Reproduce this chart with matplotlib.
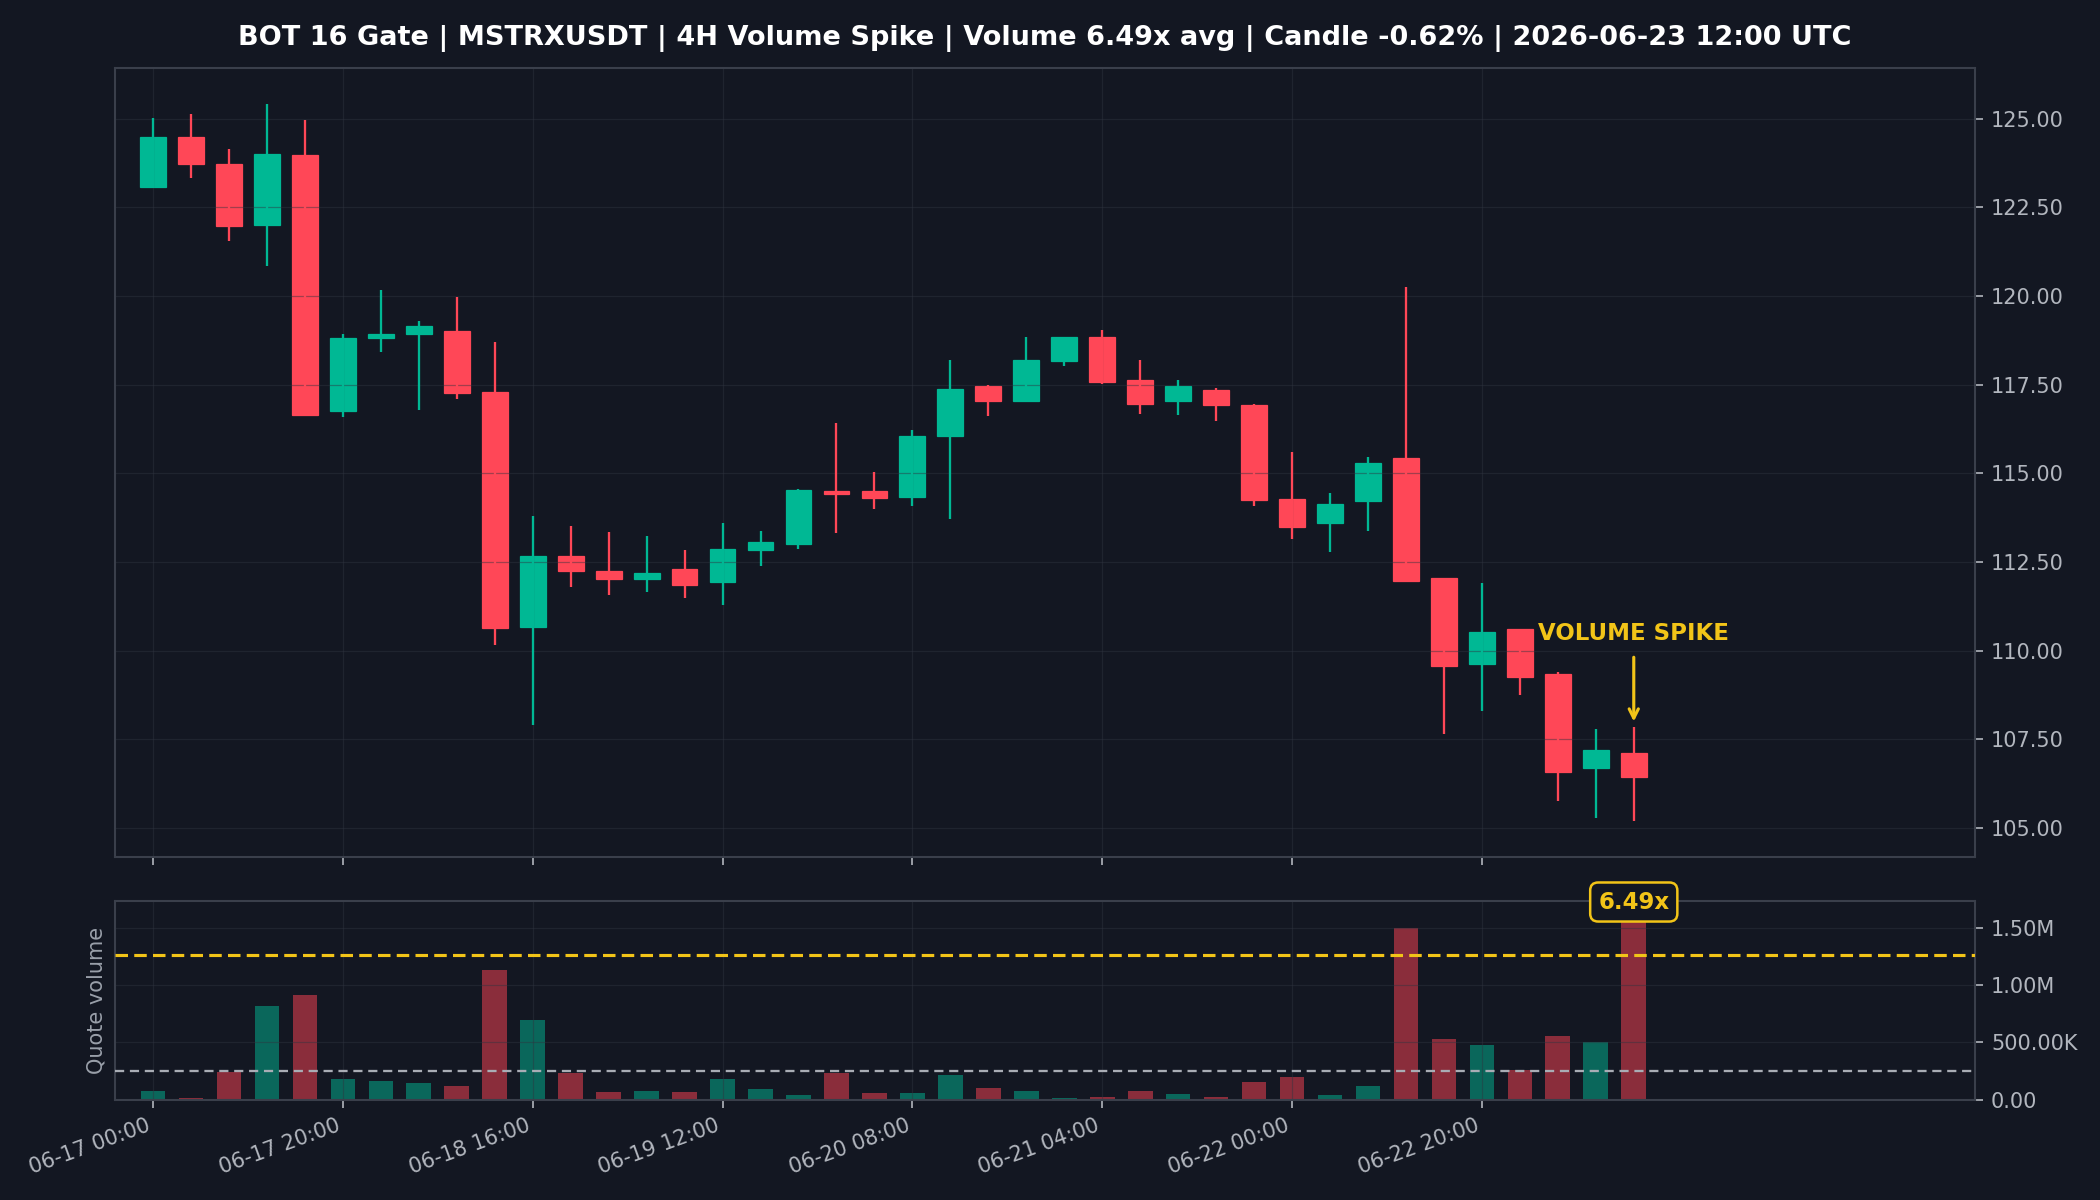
import numpy as np
import matplotlib
matplotlib.use("Agg")
import matplotlib.pyplot as plt
from matplotlib.ticker import MultipleLocator, FuncFormatter

# 4H candles, 06-17 00:00 .. 06-23 12:00
opens = [123.09, 124.48, 123.72, 122.00, 123.98, 116.76, 118.82, 118.93, 119.02, 117.30,
         110.68, 112.66, 112.26, 112.03, 112.29, 111.94, 112.84, 113.01, 114.49, 114.49,
         114.33, 116.04, 117.47, 117.03, 118.16, 118.85, 117.64, 117.03, 117.36, 116.93,
         114.27, 113.60, 114.22, 115.42, 112.06, 109.61, 110.60, 109.33, 106.68, 107.10]
highs = [125.02, 125.14, 124.14, 125.42, 124.97, 118.94, 120.18, 119.30, 119.98, 118.71,
         113.79, 113.51, 113.34, 113.23, 112.83, 113.59, 113.37, 114.57, 116.43, 115.03,
         116.21, 118.20, 117.50, 118.85, 118.85, 119.05, 118.20, 117.64, 117.42, 116.95,
         115.59, 114.44, 115.45, 120.26, 112.06, 111.90, 110.60, 109.39, 107.79, 107.84]
lows = [123.05, 123.32, 121.54, 120.84, 116.61, 116.58, 118.41, 116.80, 117.11, 110.16,
        107.91, 111.79, 111.58, 111.65, 111.48, 111.29, 112.39, 112.87, 113.32, 114.00,
        114.07, 113.71, 116.61, 117.00, 118.02, 117.53, 116.68, 116.65, 116.47, 114.07,
        113.14, 112.78, 113.37, 111.97, 107.65, 108.31, 108.76, 105.75, 105.27, 105.19]
closes = [124.48, 123.72, 121.97, 124.00, 116.64, 118.83, 118.93, 119.16, 117.26, 110.65,
          112.68, 112.25, 112.03, 112.20, 111.86, 112.88, 113.05, 114.52, 114.42, 114.31,
          116.04, 117.39, 117.03, 118.20, 118.85, 117.57, 116.95, 117.47, 116.92, 114.25,
          113.49, 114.13, 115.28, 111.97, 109.58, 110.52, 109.27, 106.59, 107.20, 106.44]
quote_volume = [76e3, 12e3, 237e3, 822e3, 915e3, 181e3, 158e3, 143e3, 120e3, 1129e3,
                693e3, 228e3, 64e3, 76e3, 64e3, 181e3, 96e3, 41e3, 228e3, 53e3,
                53e3, 211e3, 102e3, 76e3, 15e3, 26e3, 79e3, 50e3, 26e3, 152e3,
                199e3, 41e3, 120e3, 1500e3, 532e3, 474e3, 260e3, 553e3, 506e3, 1636e3]

avg_volume = 252e3
threshold_mult = 5.0
spike_mult = 6.49

tick_idx = [0, 5, 10, 15, 20, 25, 30, 35]
tick_labels = ["06-17 00:00", "06-17 20:00", "06-18 16:00", "06-19 12:00",
               "06-20 08:00", "06-21 04:00", "06-22 00:00", "06-22 20:00"]

title = ("BOT 16 Gate | MSTRXUSDT | 4H Volume Spike | Volume 6.49x avg | "
         "Candle -0.62% | 2026-06-23 12:00 UTC")

BG = "#131722"
GRID = "#2f3440"
SPINE = "#3a3f4b"
TXT = "#b2b6be"
UP = "#00b894"
DOWN = "#ff4757"
YEL = "#f2c418"

o = np.array(opens)
h = np.array(highs)
l = np.array(lows)
c = np.array(closes)
x = np.arange(len(o))
up = c >= o
colors = np.where(up, UP, DOWN)

fig = plt.figure(figsize=(14, 8), dpi=150, facecolor=BG)
ax = fig.add_axes([0.0548, 0.2858, 0.8859, 0.6575], facecolor=BG)
axv = fig.add_axes([0.0548, 0.0837, 0.8859, 0.1653], facecolor=BG, sharex=ax)

# candles: wicks above the grid, bodies below it
ax.vlines(x, l, h, colors=colors, linewidth=1.1, zorder=2)
body_lo = np.minimum(o, c)
body_h = np.maximum(np.abs(c - o), 0.04)
ax.bar(x, body_h, bottom=body_lo, width=0.68, color=colors, edgecolor=colors,
       linewidth=0.6, zorder=1)

ax.annotate("VOLUME SPIKE", xy=(x[-1], h[-1] + 0.16), xytext=(x[-1], h[-1] + 2.65),
            ha="center", va="center", color=YEL, fontsize=11, fontweight="bold",
            arrowprops=dict(arrowstyle="->", color=YEL, lw=1.5, shrinkA=4, shrinkB=0))

# volume
vcolors = np.where(up, "#0a675b", "#8a2d3b")
axv.bar(x, quote_volume, width=0.65, color=vcolors, zorder=1)
axv.axhline(avg_volume * threshold_mult, color=YEL, lw=1.5, ls=(0, (4, 2)), zorder=3)
axv.axhline(avg_volume, color="#a9adb5", lw=1.1, ls=(0, (4, 2.5)), zorder=3)
axv.set_ylim(0, max(quote_volume) * 1.06)
axv.annotate(f"{spike_mult:.2f}x", xy=(x[-1], quote_volume[-1]), xytext=(0, 5),
             textcoords="offset points", ha="center", va="center", color=YEL,
             fontsize=11, fontweight="bold", annotation_clip=False, zorder=5,
             bbox=dict(boxstyle="round,pad=0.35", fc=BG, ec=YEL, lw=1.2))


def vol_fmt(v, pos):
    if v >= 1e6:
        return f"{v / 1e6:.2f}M"
    if v >= 1e3:
        return f"{v / 1e3:.2f}K"
    return f"{v:.2f}"


axv.yaxis.set_major_locator(MultipleLocator(500000))
axv.yaxis.set_major_formatter(FuncFormatter(vol_fmt))
axv.set_ylabel("Quote volume", color="#9aa0aa", fontsize=10)

ax.yaxis.set_major_locator(MultipleLocator(2.5))
ax.yaxis.set_major_formatter(FuncFormatter(lambda v, p: f"{v:.2f}"))
ax.set_xlim(-1, 48)

for a in (ax, axv):
    a.yaxis.tick_right()
    a.grid(True, color=GRID, lw=0.6, alpha=0.45)
    a.tick_params(colors=TXT, labelsize=10, length=4, color=TXT)
    for s in a.spines.values():
        s.set_color(SPINE)
        s.set_linewidth(1.0)

axv.set_xticks(tick_idx)
axv.set_xticklabels(tick_labels, rotation=20, ha="right")
plt.setp(ax.get_xticklabels(), visible=False)

fig.text(0.4977, 0.968, title, ha="center", va="center", color="white",
         fontsize=13, fontweight="bold")

fig.savefig("out.png", dpi=150, facecolor=BG)
